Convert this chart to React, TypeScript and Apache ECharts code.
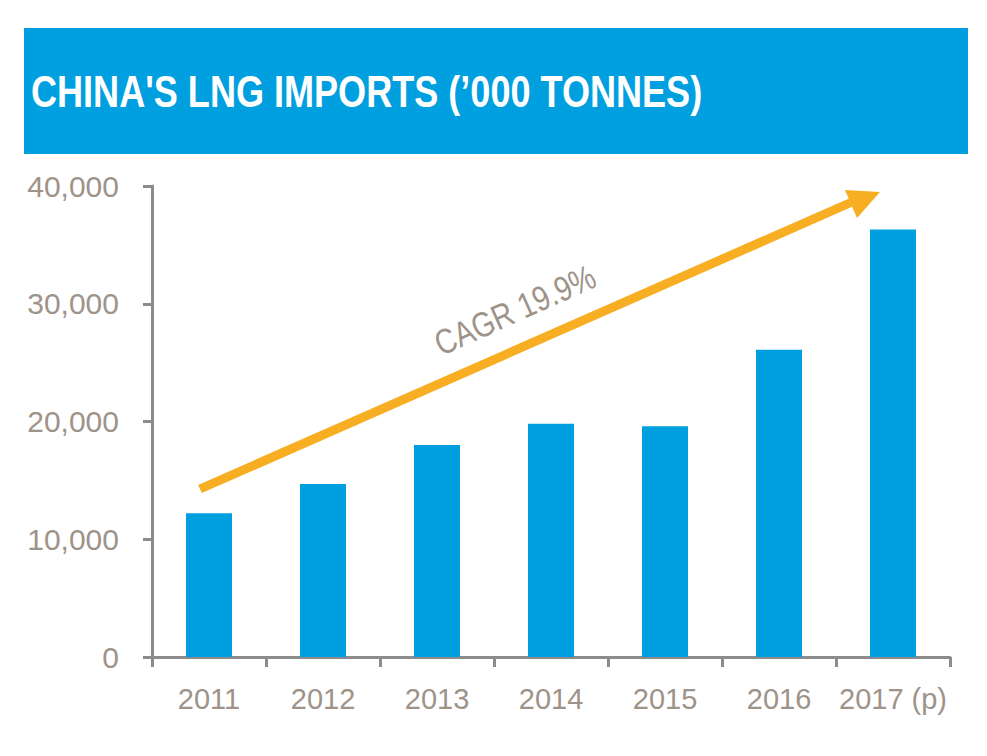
import React, { useEffect, useRef } from "react";
import * as echarts from "echarts";

const title = "CHINA'S LNG IMPORTS (\u2019000 TONNES)";
const categories = ["2011", "2012", "2013", "2014", "2015", "2016", "2017 (p)"];
const imports = [12200, 14700, 18000, 19800, 19600, 26100, 36300];
const yTicks = [0, 10000, 20000, 30000, 40000];
const cagrLabel = "CAGR 19.9%";

const BLUE = "#009FDF";
const ORANGE = "#F7AE22";
const LABEL = "#9E9389";
const AXIS = "#8C8C8C";
const FONT = "'Liberation Sans', Arial, sans-serif";

export default function App() {
  const ref = useRef<HTMLDivElement>(null);
  useEffect(() => {
    if (!ref.current) return;
    const chart = echarts.init(ref.current, null, { renderer: "svg" });
    const angle = Math.atan2(491 - 199, 852 - 200);
    chart.setOption({
      animation: false,
      backgroundColor: "#ffffff",
      grid: { left: 152, right: 37, top: 186, bottom: 99, containLabel: false },
      xAxis: {
        type: "category",
        data: categories,
        axisLine: { show: true, lineStyle: { color: AXIS, width: 3 } },
        axisTick: { show: true, length: 10, alignWithLabel: false, interval: 0, lineStyle: { color: AXIS, width: 3 } },
        axisLabel: { color: LABEL, fontSize: 29, fontWeight: 500, fontFamily: FONT, margin: 27, interval: 0 },
        splitLine: { show: false },
      },
      yAxis: {
        type: "value",
        min: yTicks[0],
        max: yTicks[yTicks.length - 1],
        interval: yTicks[1] - yTicks[0],
        axisLine: { show: true, lineStyle: { color: AXIS, width: 3 } },
        axisTick: { show: true, length: 9, lineStyle: { color: AXIS, width: 3 } },
        axisLabel: {
          color: LABEL,
          fontSize: 30,
          fontFamily: FONT,
          margin: 33,
          formatter: (v: number) => v.toLocaleString("en-US"),
        },
        splitLine: { show: false },
      },
      series: [
        {
          type: "bar",
          data: imports,
          barWidth: 46,
          itemStyle: { color: BLUE },
        },
      ],
      graphic: [
        {
          type: "rect",
          shape: { x: 24, y: 28, width: 944, height: 126 },
          style: { fill: BLUE },
          z: 10,
        },
        {
          type: "text",
          x: 31,
          y: 92,
          scaleX: 0.82,
          style: {
            text: title,
            fill: "#ffffff",
            font: `bold 44px ${FONT}`,
            verticalAlign: "middle",
            align: "left",
          },
          z: 11,
        },
        {
          type: "line",
          shape: { x1: 200, y1: 489, x2: 852, y2: 202 },
          style: { stroke: ORANGE, lineWidth: 9 },
          z: 12,
        },
        {
          type: "polygon",
          shape: { points: [[845, 190], [880, 192], [857, 218]] },
          style: { fill: ORANGE },
          z: 12,
        },
        {
          type: "text",
          x: 515,
          y: 310,
          rotation: angle,
          scaleX: 0.82,
          style: {
            text: cagrLabel,
            fill: LABEL,
            font: `35px ${FONT}`,
            align: "center",
            verticalAlign: "middle",
          },
          z: 12,
        },
      ],
    });
    return () => chart.dispose();
  }, []);
  return (
    <div
      ref={ref}
      style={{ position: "absolute", left: 0, top: 0, width: 987, height: 756 }}
    />
  );
}
